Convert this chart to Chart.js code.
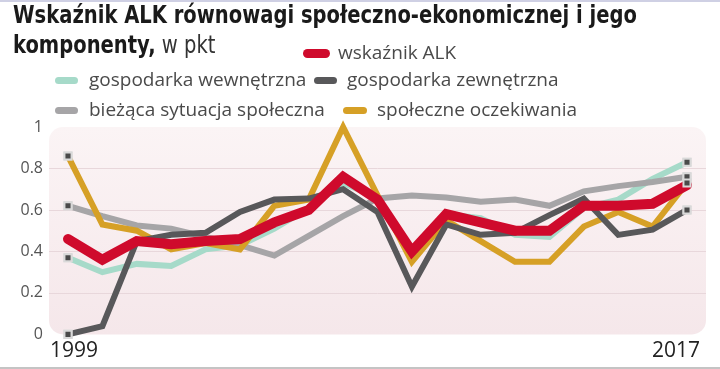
<!DOCTYPE html>
<html>
<head>
<meta charset="utf-8">
<script src="https://cdn.jsdelivr.net/npm/chart.js"></script>
<style>
  html, body { margin: 0; padding: 0; background: #fff; }
  #wrap { position: relative; width: 720px; height: 369px; overflow: hidden; }
  #wrap canvas { position: absolute; left: 0; top: 0; }
  .title { position: absolute; left: 13px; font-family: "DejaVu Sans", sans-serif; font-stretch: condensed; font-size: 24px; line-height: 24px; color: #1a1a1a; white-space: nowrap; font-weight: bold; transform-origin: 0 0; }
  .title span { font-weight: normal; color: #333; }
  .leg { position: absolute; font-family: "Open Sans", sans-serif; font-size: 19px; line-height: 19px; color: #4a4a4a; white-space: nowrap; }
  .pill { position: absolute; border-radius: 5px; }
  .rule { position: absolute; left: 0; width: 720px; }
</style>
</head>
<body>
<div id="wrap">
  <canvas id="alkChart" width="720" height="369"></canvas>
  <div class="rule" style="top:0;height:2px;background:#cfd0e4"></div>
  <div class="rule" style="top:367px;height:2px;background:#c4c4c4"></div>
  <div class="title" id="t1" style="top:3px">Wskaźnik ALK równowagi społeczno-ekonomicznej i jego</div>
  <div class="title" id="t2" style="top:33px">komponenty,<span> w pkt</span></div>
</div>
<script>
// data
const years = ["1999", "2000", "2001", "2002", "2003", "2004", "2005", "2006", "2007", "2008",
  "2009", "2010", "2011", "2012", "2013", "2014", "2015", "2016", "2017"];

const names = ["wskaźnik ALK", "gospodarka wewnętrzna", "gospodarka zewnętrzna",
  "bieżąca sytuacja społeczna", "społeczne oczekiwania"];

const alk      = [0.46, 0.36, 0.45, 0.435, 0.45, 0.46, 0.54, 0.60, 0.76, 0.65, 0.40, 0.58, 0.54, 0.50, 0.50, 0.62, 0.62, 0.63, 0.72];
const internal = [0.37, 0.30, 0.34, 0.33, 0.41, 0.43, 0.51, 0.61, 0.73, 0.66, 0.38, 0.58, 0.56, 0.48, 0.47, 0.61, 0.65, 0.75, 0.83];
const external = [0.00, 0.04, 0.45, 0.48, 0.49, 0.59, 0.65, 0.655, 0.70, 0.59, 0.23, 0.53, 0.48, 0.49, 0.575, 0.655, 0.48, 0.505, 0.60];
const social   = [0.62, 0.57, 0.525, 0.51, 0.47, 0.43, 0.38, 0.475, 0.57, 0.655, 0.67, 0.66, 0.64, 0.65, 0.62, 0.69, 0.715, 0.735, 0.76];
const expect   = [0.86, 0.53, 0.50, 0.41, 0.44, 0.41, 0.62, 0.65, 1.00, 0.67, 0.35, 0.55, 0.45, 0.35, 0.35, 0.52, 0.59, 0.52, 0.73];

const yTicks = [0, 0.2, 0.4, 0.6, 0.8, 1];
const gridTicks = [0.2, 0.4, 0.6, 0.8];
const xShown = [years[0], years[years.length - 1]];

const colors = ["#cf0a2c", "#a6dac9", "#58585a", "#a6a5a7", "#d6a026"];

// title: squeeze to the width of the original condensed face
const t1 = document.getElementById("t1");
const t2 = document.getElementById("t2");
const k = 624 / t1.getBoundingClientRect().width;
t1.style.transform = `scaleX(${k})`;
t2.style.transform = `scaleX(${k})`;

// legend (html, positioned like the original)
const legendPos = [
  { pill: [303, 53, 27, 9], text: [338, 43] },
  { pill: [55, 80, 23, 7], text: [89, 70] },
  { pill: [314, 80, 23, 7], text: [347, 70] },
  { pill: [55, 110, 23, 7], text: [89, 100] },
  { pill: [343, 110, 24, 7], text: [377, 100] }
];
const wrap = document.getElementById("wrap");
names.forEach((n, i) => {
  const p = legendPos[i];
  const pill = document.createElement("div");
  pill.className = "pill";
  pill.style.cssText = `left:${p.pill[0]}px;top:${p.pill[1] - p.pill[3] / 2}px;width:${p.pill[2]}px;height:${p.pill[3]}px;background:${colors[i]}`;
  wrap.appendChild(pill);
  const t = document.createElement("div");
  t.className = "leg";
  t.style.left = p.text[0] + "px";
  t.style.top = p.text[1] + "px";
  t.textContent = n;
  wrap.appendChild(t);
});

const last = years.length - 1;
const endPoint = c => (c.dataIndex === 0 || c.dataIndex === last) ? 5 : 0;

function series(label, data, color, width, order, markers) {
  return {
    label: label,
    data: data,
    borderColor: color,
    borderWidth: width,
    order: order,
    tension: 0,
    clip: false,
    borderCapStyle: markers ? "butt" : "round",
    pointStyle: "rect",
    pointRadius: markers ? endPoint : 0,
    pointBackgroundColor: "#4a4a4a",
    pointBorderColor: "#d9d9d9",
    pointBorderWidth: 2,
    endMarkers: markers
  };
}

// pink rounded plot area, grid lines, end markers on top, first/last year labels
const plotBg = {
  id: "plotBg",
  beforeDraw(chart) {
    const { ctx, chartArea: a, scales: { y } } = chart;
    const l = a.left - 19, r = a.right + 19, t = a.top, b = a.bottom;
    const g = ctx.createLinearGradient(0, t, 0, b);
    g.addColorStop(0, "#fbf4f5");
    g.addColorStop(1, "#f5e7ea");
    ctx.save();
    ctx.fillStyle = g;
    ctx.beginPath();
    ctx.roundRect(l, t, r - l, b - t, 14);
    ctx.fill();
    ctx.strokeStyle = "#e8d7db";
    ctx.lineWidth = 1;
    gridTicks.forEach(v => {
      const py = Math.round(y.getPixelForValue(v)) + 0.5;
      ctx.beginPath();
      ctx.moveTo(l, py);
      ctx.lineTo(r, py);
      ctx.stroke();
    });
    ctx.restore();
  },
  afterDatasetsDraw(chart) {
    chart.data.datasets.forEach((ds, i) => {
      if (!ds.endMarkers) return;
      const pts = chart.getDatasetMeta(i).data;
      [pts[0], pts[pts.length - 1]].forEach(p => p.draw(chart.ctx, chart.chartArea));
    });
  },
  afterDraw(chart) {
    const { ctx, chartArea: a, scales: { x } } = chart;
    ctx.save();
    ctx.font = '21px "Open Sans"';
    ctx.fillStyle = "#222";
    ctx.textBaseline = "alphabetic";
    ctx.textAlign = "left";
    ctx.fillText(xShown[0], x.getPixelForValue(0) - 18, a.bottom + 23);
    ctx.textAlign = "right";
    ctx.fillText(xShown[1], x.getPixelForValue(last) + 13, a.bottom + 23);
    ctx.restore();
  }
};

const ctx = document.getElementById("alkChart");
new Chart(ctx, {
  type: "line",
  data: {
    labels: years,
    datasets: [
      series(names[0], alk, colors[0], 10, 0, false),
      series(names[1], internal, colors[1], 6, 4, true),
      series(names[2], external, colors[2], 6, 1, true),
      series(names[3], social, colors[3], 6, 3, true),
      series(names[4], expect, colors[4], 6, 2, true)
    ]
  },
  options: {
    responsive: false,
    animation: false,
    events: [],
    layout: { padding: { top: 127, right: 33, left: 0, bottom: 0 } },
    plugins: { legend: { display: false }, tooltip: { enabled: false } },
    scales: {
      x: {
        offset: false,
        grid: { display: false },
        border: { display: false },
        ticks: { display: false },
        afterFit: s => { s.height = 30; }
      },
      y: {
        min: 0,
        max: 1,
        grid: { display: false, drawTicks: false },
        border: { display: false },
        afterBuildTicks: s => { s.ticks = yTicks.map(v => ({ value: v })); },
        ticks: {
          padding: 25,
          color: "#555",
          font: { family: "Open Sans", size: 16 },
          callback: v => String(+v.toFixed(1))
        },
        afterFit: s => { s.width = 68; }
      }
    }
  },
  plugins: [plotBg]
});
</script>
</body>
</html>
